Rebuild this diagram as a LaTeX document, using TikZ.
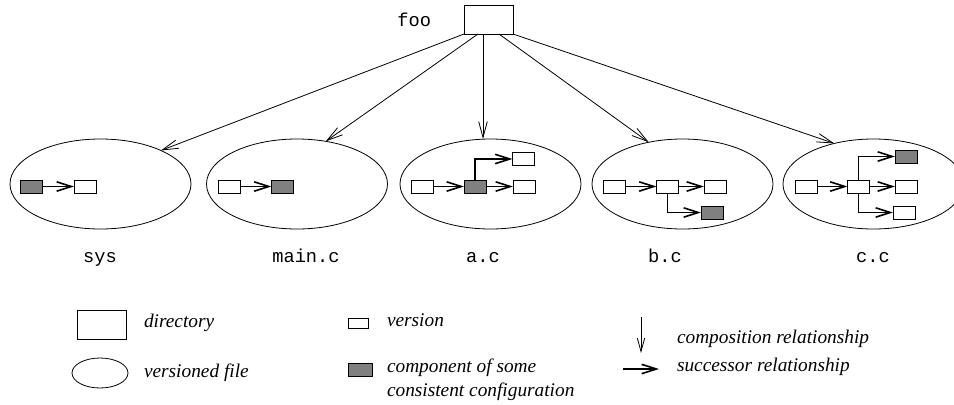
\documentclass[tikz,border=0pt]{standalone}
\usepackage{fontspec}
\setmainfont{Liberation Serif}
\setmonofont{Liberation Mono}
\usetikzlibrary{arrows.meta,shapes.geometric}

\begin{document}
\begin{tikzpicture}[y=0.75pt, x=0.75pt, yscale=-1, inner sep=0pt, outer sep=0pt,
  dirbox/.style={draw=black, line width=0.6pt, minimum width=36.75pt, minimum height=21.75pt},
  vfile/.style={draw=black, ellipse, line width=0.6pt, minimum width=135.75pt, minimum height=67.5pt},
  ver/.style={draw=black, line width=0.6pt, minimum width=16.5pt, minimum height=9.75pt},
  comp/.style={ver, fill=gray},
  compose/.style={draw=black, line width=0.6pt, -{Straight Barb[length=12pt,width=6.5pt]}},
  succ/.style={draw=black, line width=1.2pt, -{Straight Barb[length=11pt,width=7pt]}},
  lbl/.style={anchor=base, font=\ttfamily\fontsize{14}{17}\selectfont},
  legend/.style={anchor=west, align=left, font=\itshape\fontsize{14.5}{18}\selectfont}]
\clip (0,0) rectangle (954,404);

\node[dirbox] (foo) at (488.5,19.5) {};
\node[lbl, anchor=base east] (foolbl) at (431,26) {foo};

\node[vfile] (sys) at (100.5,184) {};
\node[vfile] (mainc) at (297,184) {};
\node[vfile] (ac) at (490.5,184) {};
\node[vfile] (bc) at (682.5,184) {};
\node[vfile] (cc) at (873.5,184) {};

\node[lbl] (syslbl) at (100,262) {sys};
\node[lbl] (mainlbl) at (306,262) {main.c};
\node[lbl] (aclbl) at (483,262) {a.c};
\node[lbl] (bclbl) at (665,262) {b.c};
\node[lbl] (cclbl) at (873,262) {c.c};

\coordinate (fooA) at ([xshift=10.5pt]foo.south west);
\coordinate (fooB) at ([xshift=14.25pt]foo.south west);
\coordinate (fooC) at ([xshift=26.25pt]foo.south west);
\draw[compose] (foo.south west) -- (sys.29);
\draw[compose] (fooA) -- (mainc.56);
\draw[compose] (fooB) -- (fooB |- ac.north);
\draw[compose] (fooC) -- (bc.129);
\draw[compose] (foo.south east) -- (cc.134);

\node[comp] (s1) at (31.5,186.5) {};
\node[ver] (s2) at (85,186.5) {};
\draw[succ] (s1) -- (s2);

\node[ver] (m1) at (229,186.5) {};
\node[comp] (m2) at (282.5,186.5) {};
\draw[succ] (m1) -- (m2);

\node[ver] (a1) at (422.5,186.5) {};
\node[comp] (a2) at (475,186.5) {};
\node[ver] (a3) at (524,186.5) {};
\node[ver] (a4) at (523.5,159) {};
\draw[succ] (a1) -- (a2);
\draw[succ] (a2) -- (a3);
\draw[succ] (a2.north) |- (a4.west);

\node[ver] (b1) at (614,186.5) {};
\node[ver] (b2) at (667.5,186.5) {};
\node[ver] (b3) at (715,186.5) {};
\node[comp] (b4) at (712,212.5) {};
\draw[succ] (b1) -- (b2);
\draw[succ] (b2) -- (b3);
\draw[succ] (b2.south) |- (b4.west);

\node[ver] (c1) at (806,186.5) {};
\node[ver] (c2) at (858.5,186.5) {};
\node[ver] (c3) at (906,186.5) {};
\node[comp] (c4) at (906,156.5) {};
\node[ver] (c5) at (904,212.5) {};
\draw[succ] (c1) -- (c2);
\draw[succ] (c2) -- (c3);
\draw[succ] (c2.north) |- (c4.west);
\draw[succ] (c2.south) |- (c5.west);

\node[dirbox] (legdir) at (102,325) {};
\node[legend] (legdirtxt) at (144,323) {directory};
\node[vfile, minimum width=42pt, minimum height=22.5pt] (legfile) at (100,373) {};
\node[legend] (legfiletxt) at (144,373) {versioned file};
\node[ver, minimum width=15pt, minimum height=7.5pt] (legver) at (358,323) {};
\node[legend] (legvertxt) at (387,320) {version};
\node[comp, minimum width=18pt, minimum height=10pt] (legcomp) at (360,370) {};
\node[legend] (legcomptxt) at (387,380) {component of some\\consistent configuration};
\coordinate (cmpA) at (641,317);
\coordinate (cmpB) at (641,353);
\draw[compose, -{Straight Barb[length=10pt,width=5.5pt]}] (cmpA) -- (cmpB);
\node[legend] (legcmptxt) at (677,339) {composition relationship};
\coordinate (sucA) at (623,369);
\coordinate (sucB) at (659,369);
\draw[succ] (sucA) -- (sucB);
\node[legend] (legsuctxt) at (677,367) {successor relationship};
\end{tikzpicture}
\end{document}
